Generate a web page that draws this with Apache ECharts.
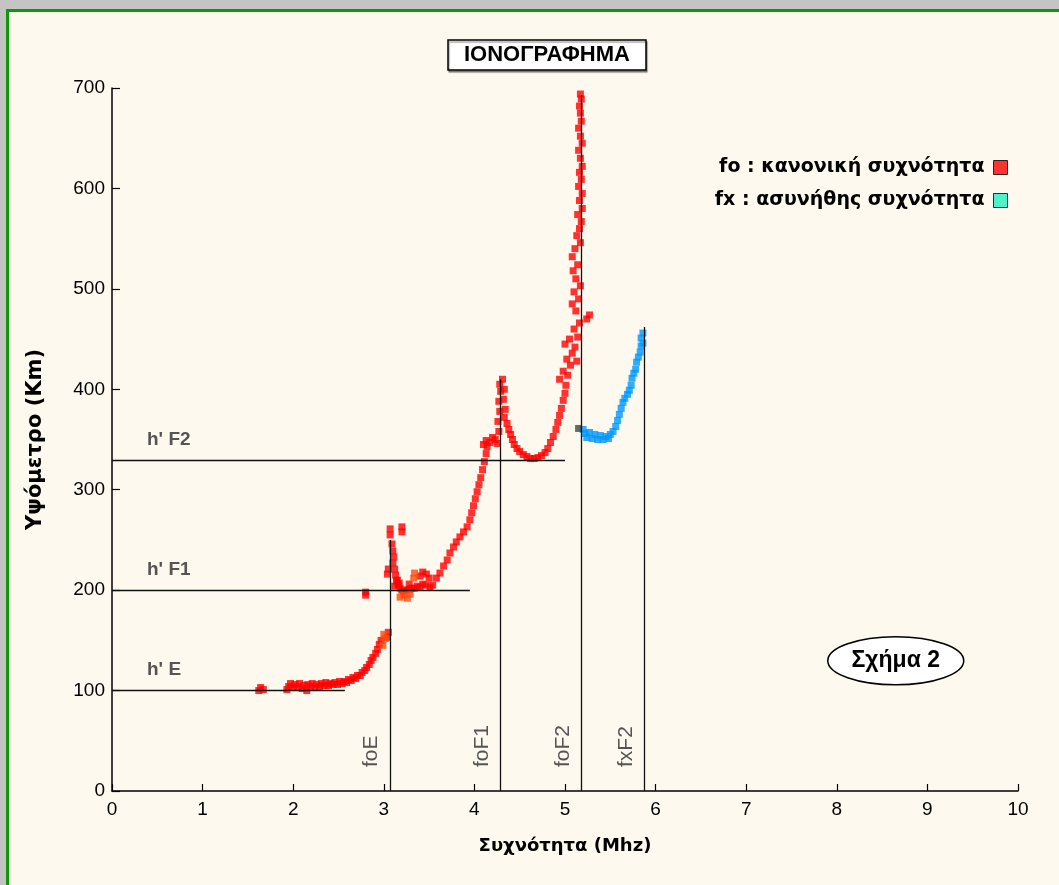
<!DOCTYPE html>
<html>
<head>
<meta charset="utf-8">
<script src="https://cdn.jsdelivr.net/npm/echarts@6/dist/echarts.min.js"></script>
<style>
html,body{margin:0;padding:0;width:1059px;height:885px;overflow:hidden;background:#c4c4c4;}
#frame{position:absolute;left:6px;top:9px;width:1100px;height:950px;background:#FEF9EE;border-left:3px solid #0A9A0A;border-top:3px solid #0A9A0A;}
#chart{position:absolute;left:0;top:0;width:1059px;height:885px;}
</style>
</head>
<body>
<div id="frame"></div>
<div id="chart"></div>
<script>
// ---- data ----
const titleText = 'ΙΟΝΟΓΡΑΦΗΜΑ';
const xAxisName = 'Συχνότητα (Mhz)';
const yAxisName = 'Υψόμετρο (Km)';
const foName = 'fo : κανονική συχνότητα';
const fxName = 'fx : ασυνήθης συχνότητα';
const figureLabel = 'Σχήμα 2';

// ordinary trace (red)
const foData = [
  [1.62,100],[1.64,103],[1.67,101],
  [1.93,101],[1.95,104],[1.97,107],[2.0,103],[2.02,106],[2.05,104],[2.07,107],[2.1,102],[2.12,105],
  [2.15,100],[2.16,106],[2.19,104],[2.21,107],[2.24,103],[2.26,106],[2.29,104],[2.31,107],[2.34,105],
  [2.36,108],[2.39,105],[2.41,107],[2.44,106],[2.46,108],[2.49,106],[2.51,109],[2.54,107],[2.56,109],
  [2.59,108],[2.61,111],[2.64,110],[2.66,113],[2.69,112],[2.71,115],[2.74,115],[2.76,118],[2.79,120],
  [2.81,123],[2.84,126],[2.86,130],[2.88,133],[2.91,137],[2.93,141],[2.95,146],[2.97,150],[3.04,153],[3.05,158],
  [2.8,195],[2.8,198],
  [3.07,255],[3.07,261],[3.2,258],[3.2,263],[3.09,246],[3.1,239],[3.11,233],[3.1,227],[3.12,221],
  [3.13,215],[3.14,209],[3.16,205],[3.18,202],[3.2,200],[3.22,199],[3.25,200],[3.28,201],[3.31,202],
  [3.34,202],[3.37,204],[3.4,203],[3.43,206],[3.46,205],[3.4,214],[3.43,218],[3.47,216],[3.5,212],
  [3.04,216],[3.05,221],[3.12,204],[3.15,210],[3.17,207],[3.28,206],[3.51,203],[3.54,205],
  [3.58,212],[3.62,217],[3.66,224],[3.7,230],[3.73,237],[3.77,243],[3.8,248],[3.84,253],[3.88,258],
  [3.92,263],[3.95,270],[3.97,277],[3.99,284],[4.01,291],[4.03,298],[4.05,305],[4.07,312],[4.09,320],
  [4.11,328],[4.13,336],[4.14,343],[4.1,345],[4.13,349],[4.17,347],[4.2,352],[4.23,350],[4.25,346],
  [4.27,358],[4.26,368],[4.28,378],[4.27,388],[4.29,398],[4.28,405],[4.31,410],[4.33,400],[4.32,390],
  [4.34,380],[4.33,372],[4.36,366],[4.38,360],[4.4,355],[4.42,350],[4.44,345],[4.47,341],[4.5,338],
  [4.54,335],[4.58,333],[4.62,331],[4.66,331],[4.7,332],[4.74,334],[4.78,337],[4.81,341],[4.84,347],
  [4.87,353],[4.9,360],[4.92,367],[4.94,374],[4.96,381],[4.98,389],[5.0,396],[5.01,404],[4.94,410],
  [4.98,418],[5.03,414],[5.06,424],[5.02,430],[5.08,436],[5.13,428],[5.11,442],[5.0,445],[5.05,450],
  [5.14,452],[5.1,460],[5.16,466],[5.24,470],[5.27,474],[5.12,478],[5.08,485],[5.15,490],[5.1,497],
  [5.17,503],[5.12,510],[5.09,518],[5.14,524],[5.08,532],[5.11,540],[5.17,546],[5.13,553],[5.16,560],
  [5.18,567],[5.14,574],[5.19,580],[5.16,588],[5.19,595],[5.15,602],[5.18,609],[5.16,616],[5.19,622],
  [5.17,630],[5.15,638],[5.19,645],[5.17,652],[5.15,660],[5.18,667],[5.17,675],[5.16,682],[5.18,689],[5.17,694]
];
// orange-tinted points of the ordinary trace
const foAltData = [[2.99,145],[3.02,152],[3.0,156],[3.18,193],[3.22,195],[3.26,192],[3.29,196],[3.33,212],[3.34,217]];
// extraordinary trace (blue)
const fxData = [
  [5.2,360],[5.22,356],[5.24,352],[5.27,357],[5.3,351],[5.33,355],[5.36,350],[5.39,354],[5.42,350],
  [5.45,353],[5.48,351],[5.5,355],[5.53,358],[5.56,363],[5.58,369],[5.6,375],[5.62,381],[5.64,387],
  [5.66,391],[5.69,395],[5.71,399],[5.73,404],[5.74,411],[5.76,416],[5.78,420],[5.79,427],[5.81,432],
  [5.83,437],[5.84,443],[5.86,446],[5.84,451],[5.86,456]
];
const overlapData = [[5.15,361]];

// reference levels and critical frequencies
const hLevelNames = ["h' E", "h' F1", "h' F2"];
const hLevelHeights = [100, 200, 329];
const hLevelEnds = [2.57, 3.95, 5.0];
const critNames = ['foE', 'foF1', 'foF2', 'fxF2'];
const critFreqs = [3.07, 4.29, 5.18, 5.88];
const critTops = [250, 410, 693, 462];

const xTicks = [0,1,2,3,4,5,6,7,8,9,10];
const yTicks = [0,100,200,300,400,500,600,700];

// ---- chart ----
const chart = echarts.init(document.getElementById('chart'), null, {renderer: 'canvas'});
const FONT = 'Liberation Sans';
const WIDE = 'DejaVu Sans';

const markData = [];
hLevelNames.forEach((n, i) => {
  markData.push([
    {name: n, coord: [0, hLevelHeights[i]],
     label: {position: 'insideStartTop', distance: [35, 11], color: '#555', fontWeight: 'bold', fontSize: 19, fontFamily: FONT}},
    {coord: [hLevelEnds[i], hLevelHeights[i]]}
  ]);
});
critNames.forEach((n, i) => {
  markData.push([
    {name: n, coord: [critFreqs[i], 0],
     label: {position: 'insideStartTop', distance: [24, 8], color: '#555', fontSize: 21, fontFamily: FONT}},
    {coord: [critFreqs[i], critTops[i]]}
  ]);
});

chart.setOption({
  animation: false,
  backgroundColor: 'transparent',
  title: {
    text: titleText,
    left: 448, top: 40,
    padding: [4, 16, 4, 16],
    backgroundColor: '#fff',
    borderColor: '#000', borderWidth: 1.5,
    shadowColor: 'rgba(0,0,0,0.35)', shadowOffsetX: 1, shadowOffsetY: 2, shadowBlur: 1,
    textStyle: {fontFamily: FONT, fontWeight: 'bold', fontSize: 22, color: '#000'}
  },
  legend: {
    orient: 'vertical', right: 46, top: 153, align: 'right',
    itemWidth: 14, itemHeight: 14, itemGap: 14,
    icon: 'rect', selectedMode: false,
    textStyle: {fontFamily: WIDE, fontWeight: 'bold', fontSize: 19, color: '#000', padding: [0, 4, 0, 0]},
    data: [
      {name: foName, itemStyle: {color: '#FF0000', borderColor: '#000', borderWidth: 1}},
      {name: fxName, itemStyle: {color: '#22F0C0', borderColor: '#000', borderWidth: 1}}
    ]
  },
  grid: {left: 112, right: 41, top: 88, bottom: 94},
  xAxis: {
    type: 'value', min: xTicks[0], max: xTicks[xTicks.length-1], interval: 1,
    name: xAxisName, nameLocation: 'middle', nameGap: 46,
    nameTextStyle: {fontFamily: WIDE, fontWeight: 'bold', fontSize: 18, color: '#000'},
    axisLine: {lineStyle: {color: '#000', width: 1.5}},
    axisTick: {inside: true, length: 7, lineStyle: {color: '#000', width: 1.2}},
    axisLabel: {fontFamily: FONT, fontSize: 19, color: '#000', margin: 9},
    splitLine: {show: false}
  },
  yAxis: {
    type: 'value', min: yTicks[0], max: yTicks[yTicks.length-1], interval: 100,
    name: yAxisName, nameLocation: 'middle', nameGap: 66,
    nameTextStyle: {fontFamily: WIDE, fontWeight: 'bold', fontSize: 21, color: '#000'},
    axisLine: {show: true, lineStyle: {color: '#000', width: 1.5}},
    axisTick: {show: true, inside: true, length: 8, lineStyle: {color: '#000', width: 1.2}},
    axisLabel: {fontFamily: FONT, fontSize: 19, color: '#000', margin: 7},
    splitLine: {show: false}
  },
  series: [
    {
      name: 'refs', type: 'line', data: [], silent: true,
      markLine: {
        silent: true, symbol: 'none', animation: false,
        lineStyle: {color: '#111', width: 1.3, type: 'solid'},
        label: {formatter: '{b}'},
        emphasis: {disabled: true},
        data: markData
      }
    },
    {name: foName, type: 'scatter', symbol: 'rect', symbolSize: 7, itemStyle: {color: '#FF0000'}, data: foData, z: 3},
    {name: 'fo-alt', type: 'scatter', symbol: 'rect', symbolSize: 7, itemStyle: {color: '#FF4A10'}, data: foAltData, z: 3},
    {name: fxName, type: 'scatter', symbol: 'rect', symbolSize: 7, itemStyle: {color: '#0098FF'}, data: fxData, z: 3},
    {name: 'overlap', type: 'scatter', symbol: 'rect', symbolSize: 7, itemStyle: {color: '#444'}, data: overlapData, z: 4}
  ],
  graphic: [
    {
      type: 'group', left: 827, top: 636,
      children: [
        {type: 'ellipse', shape: {cx: 68, cy: 24, rx: 68, ry: 24},
         style: {fill: '#fff', stroke: '#000', lineWidth: 1.5}},
        {type: 'text', x: 68, y: 24,
         style: {text: figureLabel, fill: '#000', font: 'bold 23px "Liberation Sans"', textAlign: 'center', textVerticalAlign: 'middle'}}
      ]
    }
  ]
});
</script>
</body>
</html>
